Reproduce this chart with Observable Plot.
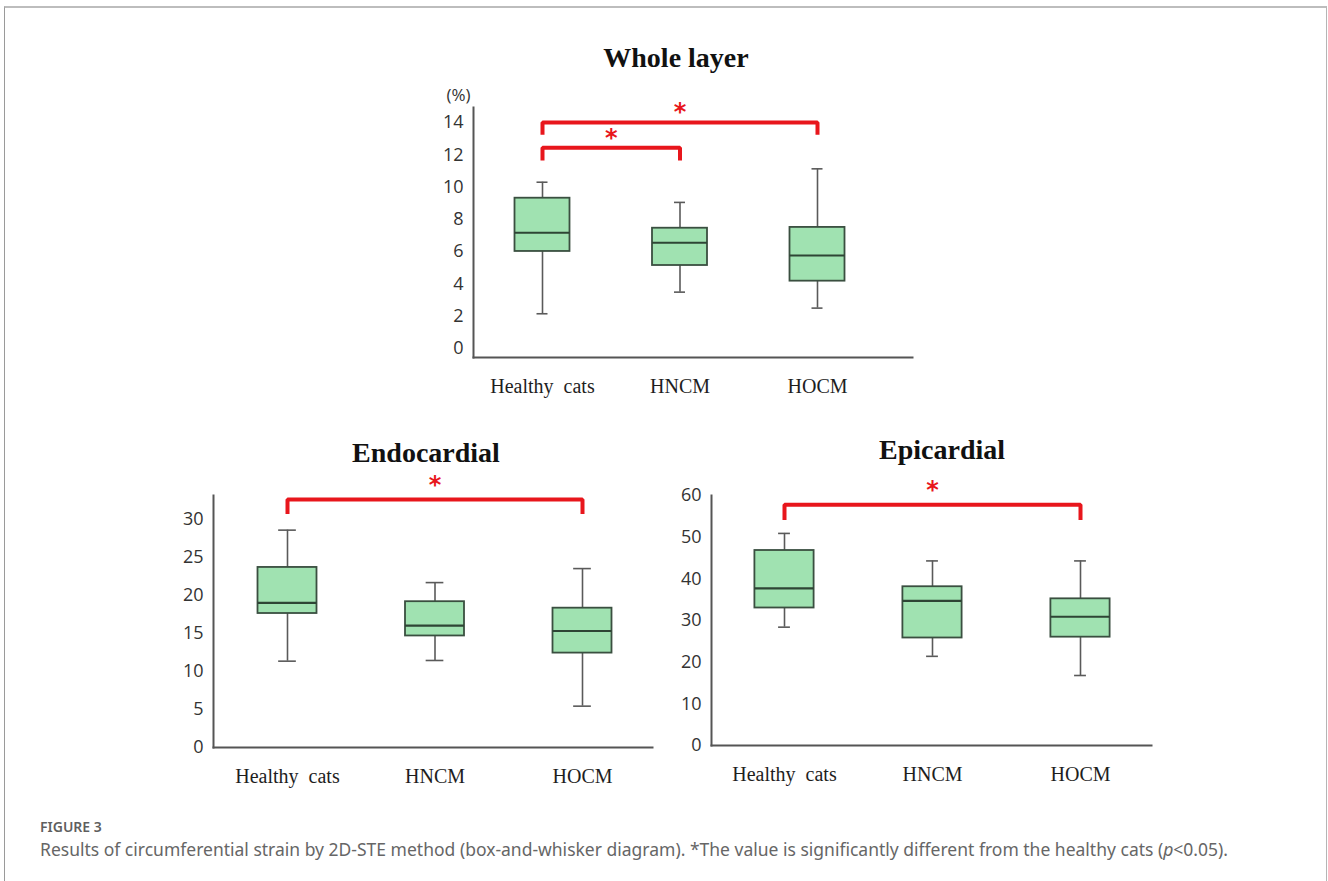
<!DOCTYPE html>
<html><head><meta charset="utf-8">
<script src="https://cdn.jsdelivr.net/npm/d3@7"></script>
<script src="https://cdn.jsdelivr.net/npm/@observablehq/plot@0.6"></script>
<style>
body{margin:0;background:#fff;}
#page{position:relative;width:1328px;height:881px;overflow:hidden;background:#fff;}
.frame{position:absolute;left:4px;top:6px;width:1321px;height:920px;border-left:1px solid #9a9a9a;border-right:1px solid #b5b5b5;border-top:2px solid #bdbdbd;}
.title{position:absolute;font-family:"Liberation Serif","Times New Roman",serif;font-weight:bold;font-size:28px;color:#111;transform:translate(-50%,-50%);white-space:nowrap;}
.panel{position:absolute;}
.fig{position:absolute;left:40px;top:817px;line-height:19px;font-family:"Noto Sans",sans-serif;font-size:14px;font-weight:600;color:#5f5f5f;}
.cap{position:absolute;left:40px;top:837px;line-height:24px;font-family:"Noto Sans",sans-serif;font-size:17.5px;color:#666;white-space:nowrap;}
</style></head>
<body>
<div id="page">
  <div class="frame"></div>
  <div class="title" style="left:676px;top:58px">Whole layer</div>
  <div class="title" style="left:426px;top:453px">Endocardial</div>
  <div class="title" style="left:942px;top:450px">Epicardial</div>
  <div class="panel" id="whole" style="left:400px;top:80px"></div>
  <div class="panel" id="endo" style="left:140px;top:470px"></div>
  <div class="panel" id="epi" style="left:640px;top:470px"></div>
  <div class="fig">FIGURE 3</div>
  <div class="cap">Results of circumferential strain by 2D-STE method (box-and-whisker diagram). *The value is significantly different from the healthy cats (<i>p</i>&lt;0.05).</div>
</div>
<script>
const categories = ["Healthy  cats", "HNCM", "HOCM"];

// Whole layer (%)
const wholeTicks = [0, 2, 4, 6, 8, 10, 12, 14];
const wholeLow = [2.15, 3.49, 2.5];
const wholeQ1 = [6.01, 5.14, 4.17];
const wholeMedian = [7.17, 6.55, 5.76];
const wholeQ3 = [9.31, 7.45, 7.5];
const wholeHigh = [10.3, 9.05, 11.13];
const wholeBracketFrom = [0, 0];
const wholeBracketTo = [1, 2];
const wholeBracketTop = [12.43, 14.0];
const wholeBracketLeg = [11.65, 13.24];

// Endocardial
const endoTicks = [0, 5, 10, 15, 20, 25, 30];
const endoLow = [11.34, 11.43, 5.43];
const endoQ1 = [17.6, 14.65, 12.4];
const endoMedian = [19.0, 16.0, 15.3];
const endoQ3 = [23.65, 19.15, 18.3];
const endoHigh = [28.55, 21.66, 23.5];
const endoBracketFrom = [0];
const endoBracketTo = [2];
const endoBracketTop = [32.56];
const endoBracketLeg = [30.66];

// Epicardial
const epiTicks = [0, 10, 20, 30, 40, 50, 60];
const epiLow = [28.4, 21.4, 16.8];
const epiQ1 = [33.0, 25.8, 26.0];
const epiMedian = [37.7, 34.7, 30.9];
const epiQ3 = [46.8, 38.1, 35.2];
const epiHigh = [50.9, 44.3, 44.3];
const epiBracketFrom = [0];
const epiBracketTo = [2];
const epiBracketTop = [57.8];
const epiBracketLeg = [54.1];

const RED = "#e8161c";

function panel(o) {
  const rows = categories.map((c, i) => ({i, c, low: o.low[i], q1: o.q1[i], med: o.med[i], q3: o.q3[i], high: o.high[i]}));
  const brackets = o.from.map((f, k) => ({k, from: f, to: o.to[k], top: o.top[k], leg: o.leg[k]}));
  const bracketPts = brackets.flatMap(b => [
    {k: b.k, x: b.from, y: b.leg}, {k: b.k, x: b.from, y: b.top},
    {k: b.k, x: b.to, y: b.top}, {k: b.k, x: b.to, y: b.leg}]);
  const HW = 0.2, CW = o.cap;
  const marks = [
    Plot.ruleX(rows, {x: "i", y1: "low", y2: "q1", stroke: "#5a5a5a", strokeWidth: 1.6}),
    Plot.ruleX(rows, {x: "i", y1: "q3", y2: "high", stroke: "#5a5a5a", strokeWidth: 1.6}),
    Plot.ruleY(rows, {y: "low", x1: d => d.i - CW, x2: d => d.i + CW, stroke: "#5a5a5a", strokeWidth: 1.6}),
    Plot.ruleY(rows, {y: "high", x1: d => d.i - CW, x2: d => d.i + CW, stroke: "#5a5a5a", strokeWidth: 1.6}),
    Plot.rect(rows, {x1: d => d.i - HW, x2: d => d.i + HW, y1: "q1", y2: "q3", fill: "#a0e2b1", stroke: "#3a4f40", strokeWidth: 1.8}),
    Plot.ruleY(rows, {y: "med", x1: d => d.i - HW, x2: d => d.i + HW, stroke: "#2e4535", strokeWidth: 2.2}),
    Plot.line(bracketPts, {x: "x", y: "y", z: "k", stroke: RED, strokeWidth: 4, strokeLinejoin: "miter", strokeLinecap: "butt"}),
    Plot.text(brackets, {x: b => (b.from + b.to) / 2, y: "top", text: () => "*", fill: RED, fontSize: 24, fontWeight: "bold", fontFamily: "DejaVu Sans", dy: o.starDy, lineAnchor: "middle"}),
    Plot.axisY({ticks: o.ticks, tickSize: 0, tickPadding: 10, fontSize: 18, fontFamily: "Open Sans", fill: "#333", label: null}),
    Plot.axisX({ticks: [0, 1, 2], tickFormat: i => categories[i], tickSize: 0, tickPadding: 21, fontSize: 20, fontFamily: "Liberation Serif", fill: "#1e1e1e", label: null}),
    Plot.frame({anchor: "left", stroke: "#555", strokeWidth: 2}),
    Plot.frame({anchor: "bottom", stroke: "#555", strokeWidth: 2})
  ];
  if (o.unit) marks.push(Plot.text([o.unit], {frameAnchor: "top-left", textAnchor: "end", dx: -3, dy: -19, fontSize: 17, fontFamily: "Open Sans", fill: "#333"}));
  return Plot.plot({
    width: o.width, height: o.height,
    marginLeft: o.ml, marginRight: o.mr, marginTop: o.mt, marginBottom: o.mb,
    style: {background: "transparent", overflow: "visible"},
    x: {type: "linear", domain: [0, 2], range: o.xRange, axis: null},
    y: {domain: o.yDomain, axis: null},
    marks
  });
}

document.getElementById("whole").appendChild(panel({
  width: 530, height: 330, ml: 73, mr: 18, mt: 27, mb: 53, xRange: [142, 417], yDomain: [-0.56, 14.93],
  ticks: wholeTicks, low: wholeLow, q1: wholeQ1, med: wholeMedian, q3: wholeQ3, high: wholeHigh,
  from: wholeBracketFrom, to: wholeBracketTo, top: wholeBracketTop, leg: wholeBracketLeg,
  cap: 0.04, starDy: -10, unit: "(%)"
}));
document.getElementById("endo").appendChild(panel({
  width: 520, height: 330, ml: 73, mr: 8, mt: 25, mb: 53, xRange: [147, 442], yDomain: [0, 33.1],
  ticks: endoTicks, low: endoLow, q1: endoQ1, med: endoMedian, q3: endoQ3, high: endoHigh,
  from: endoBracketFrom, to: endoBracketTo, top: endoBracketTop, leg: endoBracketLeg,
  cap: 0.06, starDy: -14
}));
document.getElementById("epi").appendChild(panel({
  width: 520, height: 330, ml: 71, mr: 9, mt: 25, mb: 55, xRange: [144, 440], yDomain: [0, 60],
  ticks: epiTicks, low: epiLow, q1: epiQ1, med: epiMedian, q3: epiQ3, high: epiHigh,
  from: epiBracketFrom, to: epiBracketTo, top: epiBracketTop, leg: epiBracketLeg,
  cap: 0.04, starDy: -14
}));
</script>
</body></html>
